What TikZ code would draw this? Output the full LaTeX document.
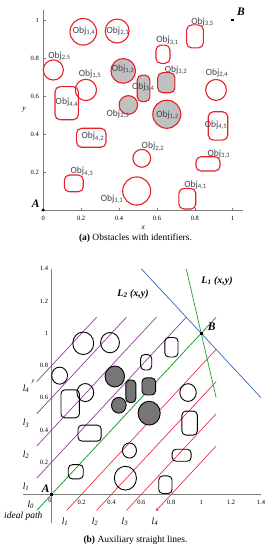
\documentclass[tikz,border=0pt]{standalone}
\usepackage{fontspec}
\setmainfont{Liberation Serif}
\newfontfamily\objfont{Carlito}
\usepackage{xcolor}
\usepackage{tikz}
\usetikzlibrary{calc, positioning}

\definecolor{vienDo}{RGB}{232,30,38}
\definecolor{xamNhat}{RGB}{192,192,192}
\definecolor{xamDam}{RGB}{118,118,118}
\definecolor{chuObj}{RGB}{62,64,78}
\definecolor{mauTruc}{RGB}{125,125,125}
\definecolor{tim}{RGB}{150,60,160}
\definecolor{doDuong}{RGB}{236,50,62}
\definecolor{xanhLa}{RGB}{30,160,50}
\definecolor{xanhDuong}{RGB}{60,100,190}

% danh sach vat can: tam x/tam y/ban kinh, goc trai duoi/goc phai tren
\newcommand{\dsTron}{0.211/0.938/0.070, 0.390/0.942/0.063, 0.053/0.737/0.053, 0.225/0.632/0.056, 0.912/0.632/0.055, 0.520/0.272/0.047, 0.493/0.100/0.074}
\newcommand{\dsTronXam}{0.422/0.732/0.065, 0.449/0.553/0.049, 0.652/0.504/0.074}
\newcommand{\dsHop}{0.757/0.853/0.845/0.974, 0.595/0.772/0.669/0.868, 0.062/0.475/0.185/0.649, 0.871/0.368/0.974/0.517, 0.176/0.330/0.331/0.430, 0.806/0.205/0.933/0.280, 0.111/0.096/0.211/0.184, 0.716/0.005/0.805/0.114}
\newcommand{\dsHopXam}{0.496/0.570/0.563/0.710, 0.604/0.617/0.695/0.723}

\begin{document}
\begin{tikzpicture}[>=latex, x=1pt, y=1pt,
    truc/.style={draw=mauTruc, line width=0.8pt},
    soTruc/.style={inner sep=0.5pt, font=\fontsize{6.5}{7}\selectfont},
    tenTruc/.style={inner sep=0pt, font=\fontsize{7.5}{8}\selectfont\itshape},
    vatDo/.style={draw=vienDo, line width=1.1pt},
    vatDoXam/.style={vatDo, fill=xamNhat},
    vatDen/.style={draw=black, line width=0.9pt},
    vatDenXam/.style={vatDen, fill=xamDam},
    nhanObj/.style={inner sep=0pt, text=chuObj, font=\objfont\fontsize{9.5}{10}\selectfont},
    nhanDiem/.style={inner sep=0pt, font=\fontsize{11.5}{12}\selectfont\bfseries\itshape},
    nhanL/.style={inner sep=0pt, font=\fontsize{9.5}{10}\selectfont\itshape},
    nhanDuong/.style={inner sep=0pt, font=\fontsize{10}{11}\selectfont\bfseries\itshape},
    diemVuong/.style={fill=black, inner sep=0pt, minimum size=3pt},
    chuThich/.style={inner sep=0pt, font=\fontsize{9.5}{11}\selectfont}]
    \useasboundingbox (0,0) rectangle (271,550);

    % 1. Hinh (a): vat can co ten
    \begin{scope}[shift={(43.3pt,340pt)}, x=189.4pt, y=190pt]
        \draw[truc] (-0.01,0) -- (1.053,0);
        \draw[truc] (0,0) -- (0,1.053);
        \foreach \t in {0.2,0.4,0.6,0.8,1} {
            \draw[truc, line width=0.5pt] (\t,0) -- (\t,0.012);
            \draw[truc, line width=0.5pt] (0,\t) -- (0.012,\t);
        }
        \foreach \t [count=\n] in {0,0.2,0.4,0.6,0.8,1}
            \node[soTruc] (xa\n) at (\t,-0.042) {\t};
        \foreach \t [count=\n] in {0.2,0.4,0.6,0.8,1}
            \node[soTruc, anchor=east] (ya\n) at (-0.02,\t) {\t};
        \node[tenTruc] (xLa) at (0.528,-0.091) {x};
        \node[tenTruc] (yLa) at (-0.102,0.526) {y};

        % vat can
        \foreach \px/\py/\rad in \dsTron
            \draw[vatDo] (\px,\py) circle[radius=\rad];
        \foreach \px/\py/\rad in \dsTronXam
            \draw[vatDoXam] (\px,\py) circle[radius=\rad];
        \foreach \xa/\ya/\xb/\yb in \dsHop
            \draw[vatDo, rounded corners=5pt] (\xa,\ya) rectangle (\xb,\yb);
        \foreach \xa/\ya/\xb/\yb in \dsHopXam
            \draw[vatDoXam, rounded corners=5pt] (\xa,\ya) rectangle (\xb,\yb);

        % ten vat can
        \foreach \lx/\ly/\i/\j in {0.215/0.942/1/4, 0.394/0.942/2/1, 0.841/0.989/3/5, 0.656/0.891/3/1,
            0.086/0.811/2/5, 0.421/0.741/1/3, 0.247/0.716/1/5, 0.701/0.737/3/2, 0.917/0.719/2/4,
            0.528/0.646/3/4, 0.125/0.565/4/4, 0.394/0.505/2/3, 0.656/0.500/1/2, 0.912/0.447/4/5,
            0.262/0.386/4/2, 0.579/0.333/2/2, 0.927/0.295/3/3, 0.204/0.202/4/3, 0.804/0.132/4/1,
            0.363/0.058/1/1}
            \node[nhanObj] (o\i\j) at (\lx,\ly) {Obj\textsubscript{\i,\j}};

        % diem A, B
        \fill (0,0) circle (1.6pt);
        \node[diemVuong, minimum size=2.6pt] (Ba) at (1,1) {};
        \node[nhanDiem] (tenAa) at (-0.04,0.035) {A};
        \node[nhanDiem] (tenBa) at (1.044,1.044) {B};
    \end{scope}
    \node[chuThich] (capA) at (135.5,311.7) {\textbf{(a)} Obstacles with identifiers.};

    % 2. Hinh (b): cac duong thang phu
    \begin{scope}[shift={(51.7pt,55.7pt)}, x=149.5pt, y=161pt]
        \draw[truc] (-0.192,0) -- (1.4,0);
        \draw[truc] (0,-0.18) -- (0,1.4);
        \foreach \t [count=\n] in {0.2,0.4,0.6,0.8,1,1.2,1.4} {
            \node[soTruc] (xb\n) at (\t,-0.048) {\t};
            \node[soTruc, anchor=east] (yb\n) at (-0.02,\t) {\t};
        }
        \node[soTruc] (xb0) at (-0.011,-0.035) {0};
        \node[tenTruc, font=\fontsize{6}{7}\selectfont\itshape] (xLb) at (0.706,-0.098) {x};
        \node[tenTruc, font=\fontsize{6}{7}\selectfont\itshape] (yLb) at (-0.123,0.70) {y};

        \node[diemVuong] (A) at (0,0) {};
        \node[diemVuong] (B) at (1,1) {};

        % duong song song
        \foreach \k in {1,...,4} {
            \draw[tim, line width=0.7pt] (-0.1,{0.2*\k-0.1}) -- ({1.1-0.2*\k},1.1);
            \draw[doDuong, line width=0.7pt] ({0.2*\k-0.1},-0.1) -- (1.1,{1.1-0.2*\k});
        }
        \draw[xanhLa, line width=0.8pt] ($(A.center)!-0.1!(B.center)$) -- ($(A.center)!1.1!(B.center)$);
        \draw[xanhLa, line width=0.7pt] ($(B.center)+(-0.1,0.4)$) -- ($(B.center)+(0.1,-0.4)$);
        \draw[xanhDuong, line width=0.7pt] ($(B.center)+(-0.4,0.4)$) -- ($(B.center)+(0.4,-0.4)$);

        % vat can
        \foreach \px/\py/\rad in \dsTron
            \draw[vatDen] (\px,\py) circle[radius=\rad];
        \foreach \px/\py/\rad in \dsTronXam
            \draw[vatDenXam] (\px,\py) circle[radius=\rad];
        \foreach \xa/\ya/\xb/\yb in \dsHop
            \draw[vatDen, rounded corners=4pt] (\xa,\ya) rectangle (\xb,\yb);
        \foreach \xa/\ya/\xb/\yb in \dsHopXam
            \draw[vatDenXam, rounded corners=4pt] (\xa,\ya) rectangle (\xb,\yb);

        \node[diemVuong] at (A) {};
        \node[diemVuong] at (B) {};

        % nhan
        \node[nhanDiem] (tenA) at (-0.04,0.037) {A};
        \node[nhanDiem] (tenB) at (1.07,1.04) {B};
        \node[nhanDuong] (L2) at (0.544,1.244) {L\textsubscript{2} (x,y)};
        \node[nhanDuong] (L1) at (1.106,1.326) {L\textsubscript{1} (x,y)};
        \foreach \k/\lx in {1/0.089, 2/0.29, 3/0.49, 4/0.69}
            \node[nhanL] (ld\k) at (\lx,-0.17) {l\textsubscript{\k}};
        \foreach \k/\ly in {1/0.047, 2/0.244, 3/0.441, 4/0.658}
            \node[nhanL] (lt\k) at (-0.172,\ly) {l\textsubscript{\k}};
        \node[nhanL] (l0) at (-0.14,-0.066) {l\textsubscript{0}};
        \node[nhanL] (idp) at (-0.19,-0.139) {ideal path};
    \end{scope}
    \node[chuThich] (capB) at (135.5,10) {\textbf{(b)} Auxiliary straight lines.};
\end{tikzpicture}
\end{document}
